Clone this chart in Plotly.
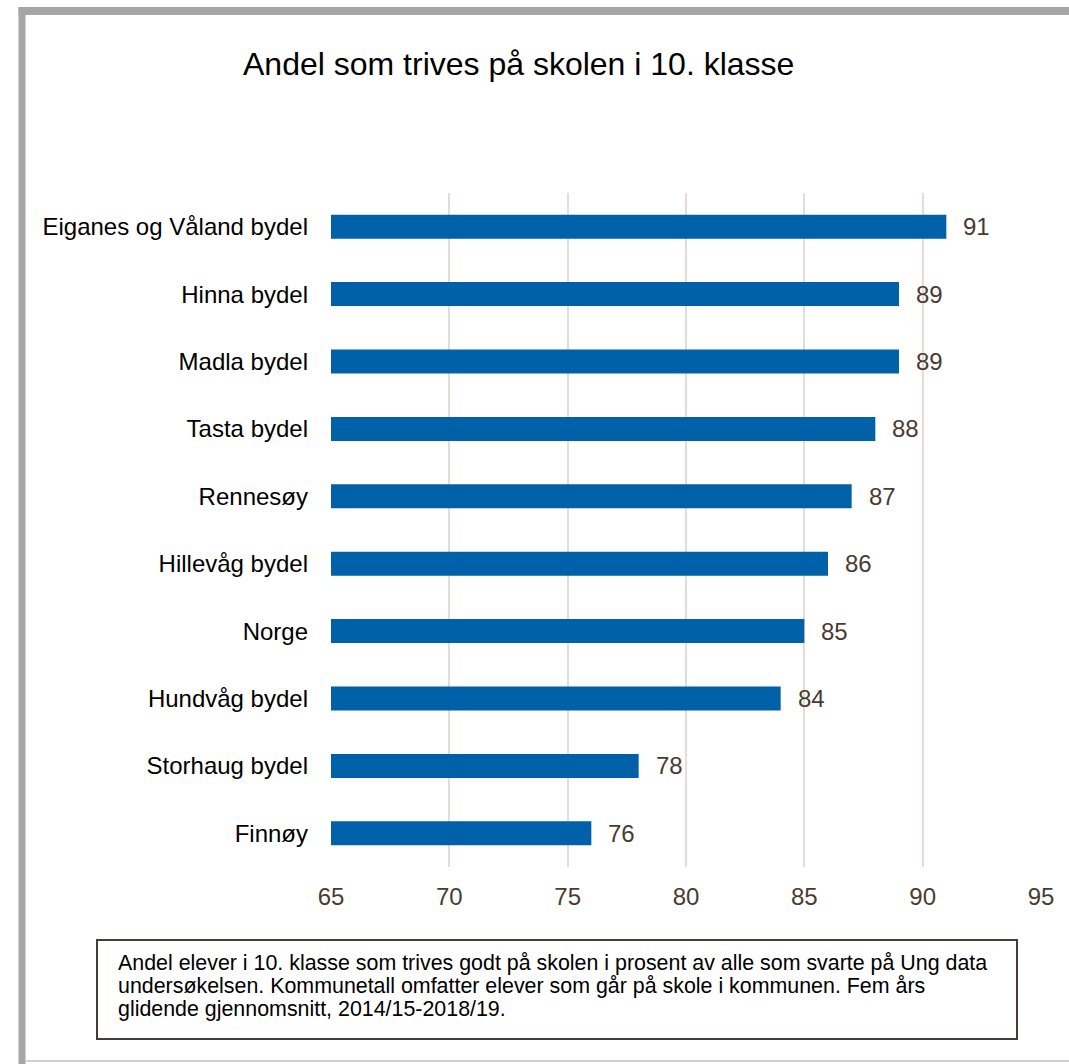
import plotly.graph_objects as go

categories = ["Eiganes og Våland bydel", "Hinna bydel", "Madla bydel", "Tasta bydel",
              "Rennesøy", "Hillevåg bydel", "Norge", "Hundvåg bydel",
              "Storhaug bydel", "Finnøy"]
values = [91, 89, 89, 88, 87, 86, 85, 84, 78, 76]
tick_vals = [65, 70, 75, 80, 85, 90, 95]

title_text = "Andel som trives på skolen i 10. klasse"
note_lines = [
    "Andel elever i 10. klasse som trives godt på skolen i prosent av alle som svarte på Ung data",
    "undersøkelsen. Kommunetall omfatter elever som går på skole i kommunen. Fem års",
    "glidende gjennomsnitt, 2014/15-2018/19.",
]

W, H = 1069, 1064
L, R, T, B = 331, 28, 193, 197
pw, ph = W - L - R, H - T - B

def px(x):
    return (x - L) / pw

def py(y):
    return (H - B - y) / ph

FONT = "Liberation Sans, Arial, sans-serif"
BROWN = "#4a3b32"

fig = go.Figure()
fig.add_trace(go.Bar(
    y=categories, x=values, orientation="h",
    marker=dict(color="#0061a8", line=dict(width=0)),
    width=0.356, base=0, hoverinfo="skip",
))

for c, v in zip(categories, values):
    fig.add_annotation(x=v, y=c, xref="x", yref="y", text=str(v), showarrow=False,
                       xanchor="left", xshift=15, font=dict(size=24, color=BROWN, family=FONT))

fig.add_annotation(x=px(518), y=py(64), xref="paper", yref="paper", text=title_text,
                   showarrow=False, xanchor="center", yanchor="middle",
                   font=dict(size=32, color="#000000", family=FONT))

for i, line in enumerate(note_lines):
    fig.add_annotation(x=px(116), y=py(963 + 23 * i), xref="paper", yref="paper", text=line,
                       showarrow=False, xanchor="left", yanchor="middle", align="left",
                       font=dict(size=21.4, color="#000000", family=FONT))

shapes = [
    dict(type="rect", xref="paper", yref="paper", x0=px(97), x1=px(1017), y0=py(1039), y1=py(940),
         line=dict(color="#4a3b32", width=2), fillcolor="rgba(0,0,0,0)"),
    dict(type="line", xref="paper", yref="paper", x0=px(22), x1=px(22), y0=py(1070), y1=py(7),
         line=dict(color="#a6a6a6", width=7)),
    dict(type="line", xref="paper", yref="paper", x0=px(18.5), x1=px(1080), y0=py(11), y1=py(11),
         line=dict(color="#a6a6a6", width=8)),
    dict(type="line", xref="paper", yref="paper", x0=px(25), x1=px(1080), y0=py(1061), y1=py(1061),
         line=dict(color="#d0d0d0", width=2)),
]

fig.update_layout(
    width=W, height=H,
    margin=dict(l=L, r=R, t=T, b=B, autoexpand=False),
    paper_bgcolor="white", plot_bgcolor="white",
    showlegend=False,
    shapes=shapes,
    xaxis=dict(range=[65, 95], tickvals=tick_vals, showgrid=True, gridcolor="#e8dbd3", gridwidth=2,
               zeroline=False, showline=False, ticks="", ticklabelstandoff=13,
               tickfont=dict(size=24, color=BROWN, family=FONT)),
    yaxis=dict(categoryorder="array", categoryarray=categories, autorange="reversed",
               showgrid=False, zeroline=False, showline=False, ticks="", ticklabelstandoff=22,
               tickfont=dict(size=24, color="#000000", family=FONT)),
)

fig.write_html("out.html", config={"displayModeBar": False},
               post_script="document.body.style.margin='0';document.body.style.overflow='hidden';")
